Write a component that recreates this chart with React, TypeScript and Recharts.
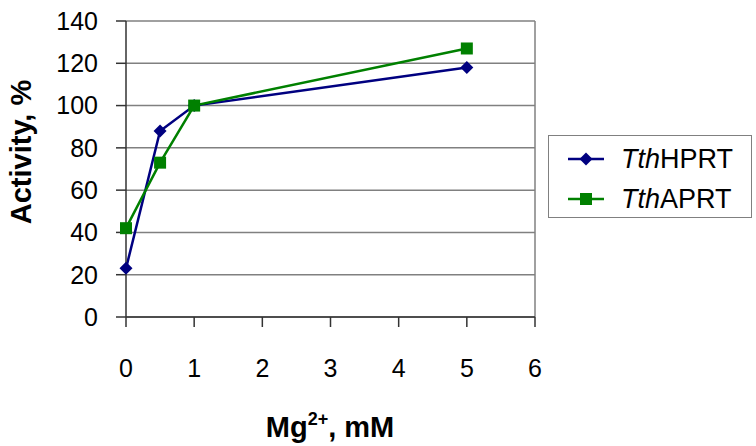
import { LineChart, Line, XAxis, YAxis, CartesianGrid, ReferenceLine, Label } from 'recharts'

// Mg2+ concentration, mM
const mgConc = [0, 0.5, 1, 5]
const hprtActivity = [23, 88, 100, 118]
const aprtActivity = [42, 73, 100, 127]
const xTicks = [0, 1, 2, 3, 4, 5, 6]
const yTicks = [0, 20, 40, 60, 80, 100, 120, 140]

const HPRT_COLOR = '#000080'
const APRT_COLOR = '#008000'
const FONT = '"Liberation Sans", Arial, sans-serif'

const data = mgConc.map((x, i) => ({ x, hprt: hprtActivity[i], aprt: aprtActivity[i] }))

function Diamond({ cx, cy }: any) {
    if (cx == null || cy == null) return null
    const r = 6.5
    return <path d={`M${cx},${cy - r}L${cx + r},${cy}L${cx},${cy + r}L${cx - r},${cy}Z`} fill={HPRT_COLOR} />
}

function Square({ cx, cy }: any) {
    if (cx == null || cy == null) return null
    const s = 6
    return <rect x={cx - s} y={cy - s} width={s * 2} height={s * 2} fill={APRT_COLOR} />
}

// legend box sits to the right of the plot, outside recharts layout
function LegendBox() {
    const rows = [
        { name: 'HPRT', color: HPRT_COLOR, marker: 'diamond' },
        { name: 'APRT', color: APRT_COLOR, marker: 'square' },
    ]
    return (
        <div style={{ position: 'absolute', left: 548, top: 135, width: 204, height: 83, border: '1.5px solid #808080', boxSizing: 'border-box', background: '#fff' }}>
            {rows.map((r, i) => (
                <div key={r.name} style={{ position: 'absolute', left: 18, top: 23 + i * 40 - 16, height: 32, display: 'flex', alignItems: 'center' }}>
                    <svg width={38} height={16} style={{ display: 'block' }}>
                        <line x1={1} y1={8} x2={37} y2={8} stroke={r.color} strokeWidth={2.5} />
                        {r.marker === 'diamond'
                            ? <path d="M19,1.5L25.5,8L19,14.5L12.5,8Z" fill={r.color} />
                            : <rect x={13} y={2} width={12} height={12} fill={r.color} />}
                    </svg>
                    <span style={{ marginLeft: 16, fontFamily: FONT, fontSize: 27, color: '#000', lineHeight: '32px', whiteSpace: 'nowrap' }}>
                        <i>Tth</i>{r.name}
                    </span>
                </div>
            ))}
        </div>
    )
}

export default function App() {
    return (
        <div style={{ position: 'absolute', left: 0, top: 0, width: 756, height: 446, background: '#fff' }}>
            <LineChart width={756} height={446} data={data} margin={{ top: 21, right: 221, bottom: 0, left: 0 }}>
                <CartesianGrid vertical={false} stroke="#808080" strokeWidth={1.5} />
                <ReferenceLine x={6} stroke="#808080" strokeWidth={1.5} />
                <XAxis
                    type="number"
                    dataKey="x"
                    domain={[0, 6]}
                    ticks={xTicks}
                    height={129}
                    axisLine={{ stroke: '#333', strokeWidth: 1.5 }}
                    tickLine={{ stroke: '#333', strokeWidth: 1.5 }}
                    tickSize={10}
                    tickMargin={32}
                    tick={{ fill: '#000', fontSize: 25, fontFamily: FONT }}
                >
                    <Label
                        content={() => (
                            <text x={330} y={437} textAnchor="middle" fontFamily={FONT} fontWeight="bold" fontSize={29} fill="#000">
                                Mg<tspan fontSize={18} dy={-12}>2+</tspan><tspan dy={12}>, mM</tspan>
                            </text>
                        )}
                    />
                </XAxis>
                <YAxis
                    type="number"
                    domain={[0, 140]}
                    ticks={yTicks}
                    width={126}
                    axisLine={{ stroke: '#333', strokeWidth: 1.5 }}
                    tickLine={{ stroke: '#333', strokeWidth: 1.5 }}
                    tickSize={10}
                    tickMargin={18}
                    tick={{ fill: '#000', fontSize: 25, fontFamily: FONT }}
                >
                    <Label
                        content={() => (
                            <text x={21} y={152} transform="rotate(-90 21 152)" textAnchor="middle" dominantBaseline="central" fontFamily={FONT} fontWeight="bold" fontSize={29} fill="#000">
                                Activity, %
                            </text>
                        )}
                    />
                </YAxis>
                <Line dataKey="hprt" name="TthHPRT" stroke={HPRT_COLOR} strokeWidth={2.5} dot={<Diamond />} isAnimationActive={false} />
                <Line dataKey="aprt" name="TthAPRT" stroke={APRT_COLOR} strokeWidth={2.5} dot={<Square />} isAnimationActive={false} />
            </LineChart>
            <LegendBox />
        </div>
    )
}
